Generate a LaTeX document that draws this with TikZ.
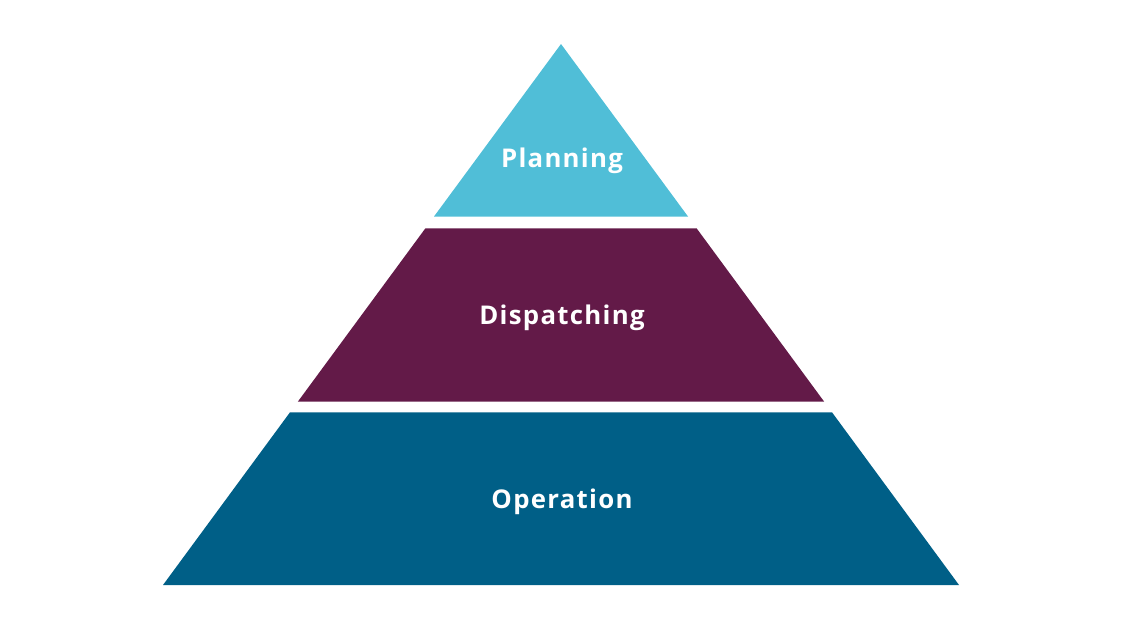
\documentclass[tikz,border=0pt]{standalone}
\usepackage{fontspec}
\setmainfont{Open Sans}
\newfontfamily\levelfont[LetterSpace=5]{Open Sans}
\usetikzlibrary{positioning}

\definecolor{planblue}{RGB}{80,190,215}
\definecolor{dispurple}{RGB}{99,26,72}
\definecolor{opteal}{RGB}{0,95,135}

\begin{document}
\begin{tikzpicture}[x=0.03cm, y=-0.03cm,
    level/.style={draw=none},
    leveltext/.style={text=white, font=\levelfont\bfseries\fontsize{22}{26}\selectfont}]
    \useasboundingbox (0,0) rectangle (1125,633);

    % Planning
    \fill[level, planblue] (561,44) -- (688,216.5) -- (434,216.5) -- cycle;
    \node [leveltext] (planning) at (562,160.5) {Planning};

    % Dispatching
    \fill[level, dispurple] (425.4,228.3) -- (696.6,228.3) -- (824.2,401.7) -- (297.8,401.7) -- cycle;
    \node [leveltext] (dispatching) at (562,317.5) {Dispatching};

    % Operation
    \fill[level, opteal] (290,412.3) -- (832,412.3) -- (959,585) -- (163,585) -- cycle;
    \node [leveltext] (operation) at (562,501.5) {Operation};
\end{tikzpicture}
\end{document}
